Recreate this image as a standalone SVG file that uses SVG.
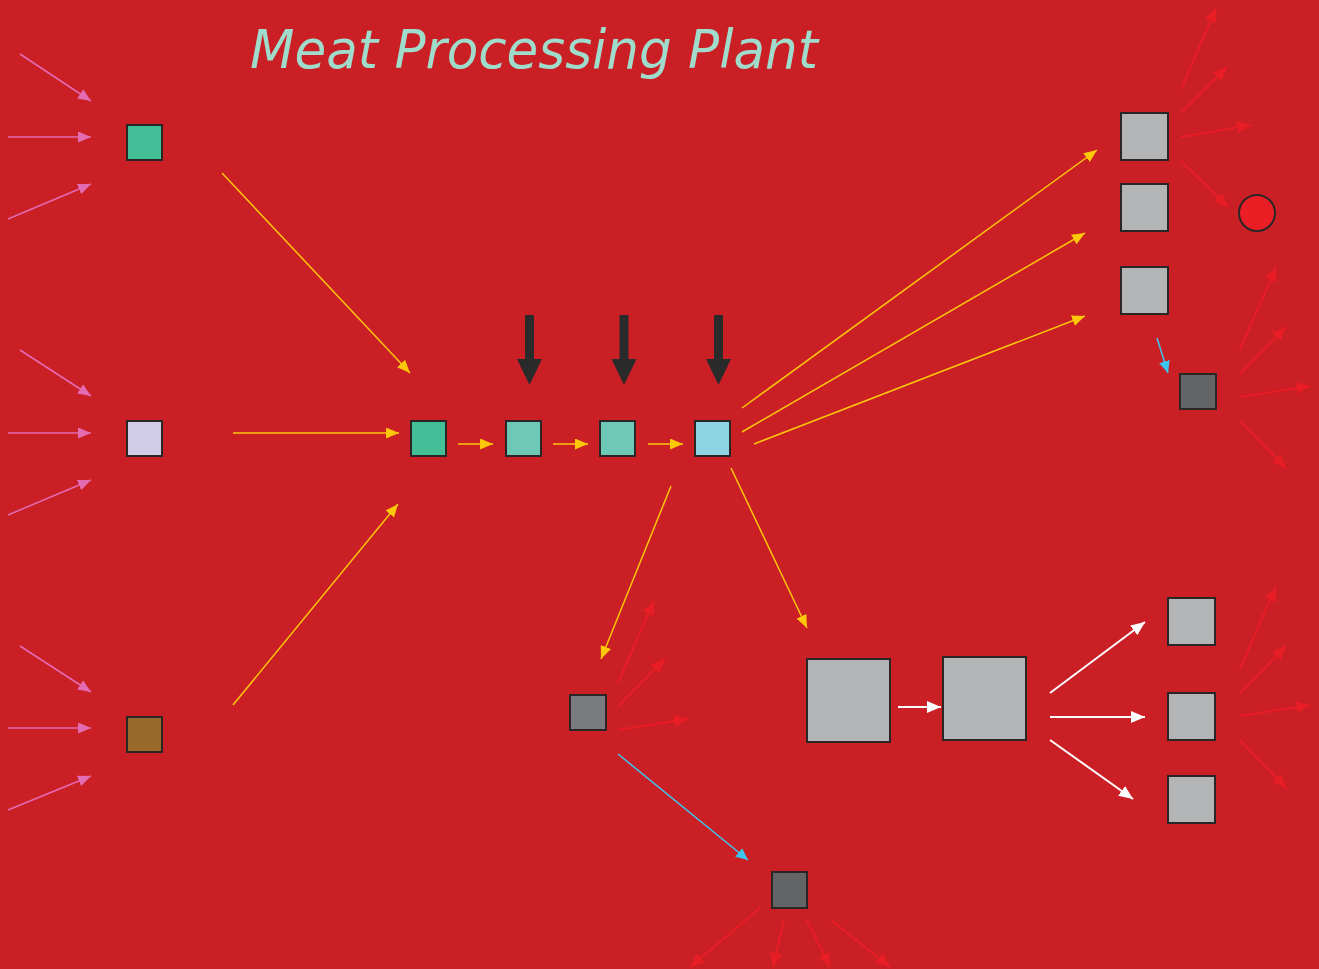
<svg xmlns="http://www.w3.org/2000/svg" width="1319" height="969" viewBox="0 0 1319 969">
<defs>
<marker id="mPink" markerUnits="userSpaceOnUse" markerWidth="13" markerHeight="11" refX="13" refY="5.5" orient="auto"><path d="M0,0 L13,5.5 L0,11 z" fill="#E46AB2"/></marker>
<marker id="mYel" markerUnits="userSpaceOnUse" markerWidth="13" markerHeight="11" refX="13" refY="5.5" orient="auto"><path d="M0,0 L13,5.5 L0,11 z" fill="#FDC70A"/></marker>
<marker id="mRed" markerUnits="userSpaceOnUse" markerWidth="14" markerHeight="12" refX="14" refY="6" orient="auto"><path d="M0,0 L14,6 L0,12 z" fill="#E81D25"/></marker>
<marker id="mWhite" markerUnits="userSpaceOnUse" markerWidth="14" markerHeight="12" refX="14" refY="6" orient="auto"><path d="M0,0 L14,6 L0,12 z" fill="#FFFFFF"/></marker>
<marker id="mBlue" markerUnits="userSpaceOnUse" markerWidth="12" markerHeight="11" refX="12" refY="5.5" orient="auto"><path d="M0,0 L12,5.5 L0,11 z" fill="#3DC6F0"/></marker>
</defs>
<style>
.n{stroke:#2A2626;stroke-width:2}
.pk{stroke:#E46AB2;stroke-width:1.5;fill:none;marker-end:url(#mPink)}
.yl{stroke:#FDC70A;stroke-width:1.5;fill:none;marker-end:url(#mYel)}
.rd{stroke:#E81D25;stroke-width:2;fill:none;marker-end:url(#mRed)}
.wh{stroke:#FFFFFF;stroke-width:2;fill:none;marker-end:url(#mWhite)}
.bl{stroke:#3DC6F0;stroke-width:1.5;fill:none;marker-end:url(#mBlue)}
.big{fill:#2B2A2A}
.gray{fill:#B3B4B6}
.dark{fill:#636465}
</style>
<rect x="0" y="0" width="1319" height="969" fill="#CB1F26"/>
<text x="250" y="68" font-family="'DejaVu Sans', sans-serif" font-style="italic" font-size="54" fill="#9FDCCB" textLength="568" lengthAdjust="spacingAndGlyphs">Meat Processing Plant</text>

<g id="connectors">
<line class="pk" x1="20" y1="54" x2="91" y2="101"/>
<line class="pk" x1="8" y1="137" x2="91" y2="137"/>
<line class="pk" x1="8" y1="219" x2="91" y2="184"/>
<line class="pk" x1="20" y1="350" x2="91" y2="396"/>
<line class="pk" x1="8" y1="433" x2="91" y2="433"/>
<line class="pk" x1="8" y1="515" x2="91" y2="480"/>
<line class="pk" x1="20" y1="646" x2="91" y2="692"/>
<line class="pk" x1="8" y1="728" x2="91" y2="728"/>
<line class="pk" x1="8" y1="810" x2="91" y2="776"/>

<line class="yl" x1="222" y1="173" x2="410" y2="373"/>
<line class="yl" x1="233" y1="433" x2="399" y2="433"/>
<line class="yl" x1="233" y1="705" x2="398" y2="504"/>
<line class="yl" x1="458" y1="444" x2="493" y2="444"/>
<line class="yl" x1="553" y1="444" x2="588" y2="444"/>
<line class="yl" x1="648" y1="444" x2="683" y2="444"/>
<line class="yl" x1="742" y1="408" x2="1097" y2="150"/>
<line class="yl" x1="742" y1="432" x2="1085" y2="233"/>
<line class="yl" x1="754" y1="444" x2="1085" y2="316"/>
<line class="yl" x1="671" y1="486" x2="601" y2="659"/>
<line class="yl" x1="731" y1="468" x2="807" y2="628"/>

<line class="rd" x1="1181" y1="89" x2="1216" y2="8"/>
<line class="rd" x1="1181" y1="113" x2="1227" y2="67"/>
<line class="rd" x1="1181" y1="137" x2="1251" y2="125"/>
<line class="rd" x1="1181" y1="161" x2="1228" y2="207"/>

<line class="bl" x1="1157" y1="338" x2="1168" y2="373"/>

<line class="rd" x1="1240" y1="350" x2="1276" y2="267"/>
<line class="rd" x1="1240" y1="374" x2="1286" y2="327"/>
<line class="rd" x1="1240" y1="397" x2="1310" y2="386"/>
<line class="rd" x1="1240" y1="421" x2="1286" y2="468"/>

<line class="rd" x1="618" y1="683" x2="654" y2="601"/>
<line class="rd" x1="618" y1="706" x2="665" y2="659"/>
<line class="rd" x1="618" y1="730" x2="688" y2="719"/>

<line class="bl" x1="618" y1="754" x2="748" y2="860"/>

<line class="rd" x1="760" y1="908" x2="690" y2="967"/>
<line class="rd" x1="784" y1="920" x2="773" y2="967"/>
<line class="rd" x1="807" y1="920" x2="830" y2="967"/>
<line class="rd" x1="831" y1="920" x2="890" y2="967"/>

<line class="wh" x1="898" y1="707" x2="941" y2="707"/>
<line class="wh" x1="1050" y1="693" x2="1145" y2="622"/>
<line class="wh" x1="1050" y1="717" x2="1145" y2="717"/>
<line class="wh" x1="1050" y1="740" x2="1133" y2="799"/>

<line class="rd" x1="1240" y1="669" x2="1276" y2="587"/>
<line class="rd" x1="1240" y1="693" x2="1286" y2="646"/>
<line class="rd" x1="1240" y1="716" x2="1310" y2="705"/>
<line class="rd" x1="1240" y1="740" x2="1286" y2="788"/>

<path class="big" d="M525,315 H534 V359 H542 L529.5,385 L517,359 H525 Z"/>
<path class="big" d="M619.5,315 H628.5 V359 H636.5 L624,385 L611.5,359 H619.5 Z"/>
<path class="big" d="M714,315 H723 V359 H731 L718.5,385 L706,359 H714 Z"/>
</g>

<g id="src1"><rect class="n" x="127" y="125" width="35" height="35" fill="#43BF98"/></g>
<g id="src2"><rect class="n" x="127" y="421" width="35" height="35" fill="#D0CCE8"/></g>
<g id="src3"><rect class="n" x="127" y="717" width="35" height="35" fill="#9A6A2A"/></g>

<g id="p1"><rect class="n" x="411" y="421" width="35" height="35" fill="#43BF98"/></g>
<g id="p2"><rect class="n" x="506" y="421" width="35" height="35" fill="#6DC9B5"/></g>
<g id="p3"><rect class="n" x="600" y="421" width="35" height="35" fill="#6DC9B5"/></g>
<g id="p4"><rect class="n" x="695" y="421" width="35" height="35" fill="#8DD5E2"/></g>

<g id="tr1"><rect class="n gray" x="1121" y="113" width="47" height="47"/></g>
<g id="tr2"><rect class="n gray" x="1121" y="184" width="47" height="47"/></g>
<g id="tr3"><rect class="n gray" x="1121" y="267" width="47" height="47"/></g>
<g id="circle1"><circle cx="1257" cy="213" r="18" fill="#EB1E25" stroke="#2A2626" stroke-width="2"/></g>
<g id="dk1"><rect class="n dark" x="1180" y="374" width="36" height="35"/></g>

<g id="bm1"><rect class="n" x="570" y="695" width="36" height="35" fill="#7A7B7E"/></g>
<g id="dk2"><rect class="n dark" x="772" y="872" width="35" height="36"/></g>

<g id="lg1"><rect class="n gray" x="807" y="659" width="83" height="83"/></g>
<g id="lg2"><rect class="n gray" x="943" y="657" width="83" height="83"/></g>

<g id="br1"><rect class="n gray" x="1168" y="598" width="47" height="47"/></g>
<g id="br2"><rect class="n gray" x="1168" y="693" width="47" height="47"/></g>
<g id="br3"><rect class="n gray" x="1168" y="776" width="47" height="47"/></g>
</svg>
